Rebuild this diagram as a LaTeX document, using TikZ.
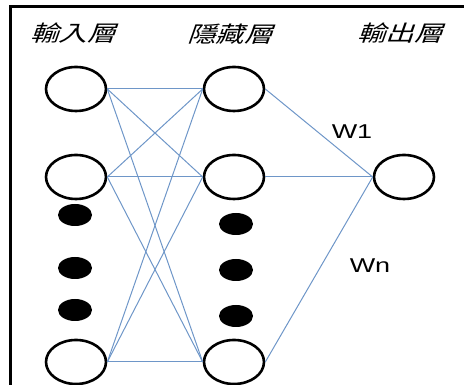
\documentclass[tikz,border=0pt]{standalone}
\usepackage{fontspec}
\setmainfont{Liberation Sans}
\newfontfamily\cjkfont{Noto Sans CJK TC}
\usetikzlibrary{shapes.geometric}
\definecolor{linkblue}{RGB}{110,150,200}
\begin{document}
\begin{tikzpicture}[x=1pt,y=1pt,
  neuron/.style={ellipse,draw=black,line width=2.6pt,minimum width=60pt,minimum height=44pt,inner sep=0pt},
  dotnode/.style={ellipse,fill=black,minimum width=34pt,minimum height=22pt,inner sep=0pt},
  link/.style={draw=linkblue,line width=1pt},
  title/.style={font=\cjkfont\fontsize{22}{22}\selectfont,xslant=0.35,xscale=1.3,transform shape,inner sep=0pt},
  wlabel/.style={font=\fontsize{20}{20}\selectfont,xscale=1.35,transform shape,inner sep=0pt}]
\useasboundingbox (0,0) rectangle (464,385);
\draw[line width=2.5pt] (10.5,0) -- (10.5,378.5) -- (464,378.5);
% titles
\node[title] (t1) at (76,352) {輸入層};
\node[title] (t2) at (233,351) {隱藏層};
\node[title] (t3) at (403,352) {輸出層};
% input layer
\node[neuron] (i1) at (76,296) {};
\node[neuron] (i2) at (76,208) {};
\node[neuron] (i3) at (76,23) {};
\node[dotnode] (id1) at (75,170) {};
\node[dotnode] (id2) at (75,117) {};
\node[dotnode] (id3) at (75,75) {};
% hidden layer
\node[neuron] (h1) at (234,296) {};
\node[neuron] (h2) at (234,208) {};
\node[neuron] (h3) at (234,23) {};
\node[dotnode] (hd1) at (236,161) {};
\node[dotnode] (hd2) at (236,115) {};
\node[dotnode] (hd3) at (236,69) {};
% output
\node[neuron] (o) at (404,208) {};
% links
\foreach \a in {i1,i2,i3}{
  \foreach \b in {h1,h2,h3}{
    \draw[link] (\a.east) -- (\b.west);
  }
}
\foreach \b in {h1,h2,h3}{
  \draw[link] (\b.east) -- (o.west);
}
\node[wlabel] (w1) at (352,253) {W1};
\node[wlabel] (wn) at (370,119) {Wn};
\end{tikzpicture}
\end{document}
